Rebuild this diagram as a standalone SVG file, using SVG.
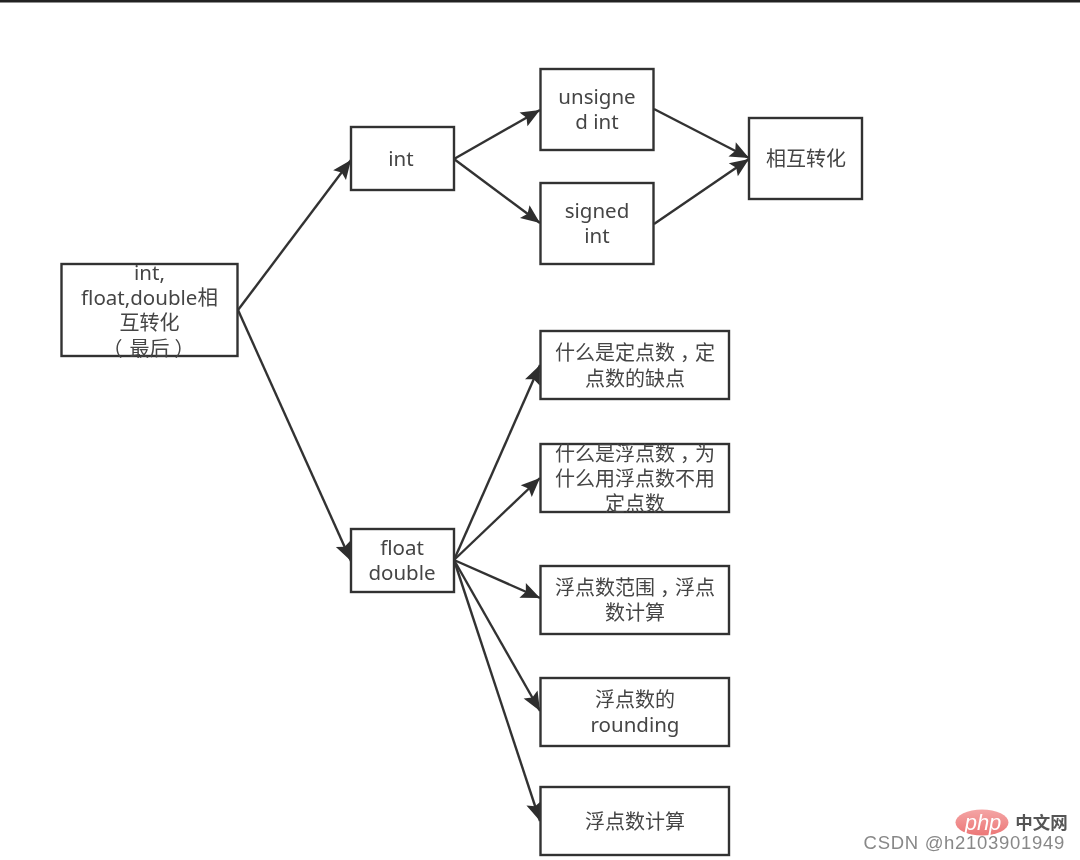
<svg xmlns="http://www.w3.org/2000/svg" width="1080" height="860" viewBox="0 0 1080 860">
<defs>
<marker id="a" markerUnits="userSpaceOnUse" markerWidth="22" markerHeight="18" refX="20" refY="9" orient="auto"><path d="M1 1L20 9L1 17L4.500 9Z" fill="#2e2e2e"/></marker>
<filter id="soft" x="0" y="0" width="1080" height="860" filterUnits="userSpaceOnUse"><feGaussianBlur stdDeviation="0.55"/></filter>
<linearGradient id="ph" x1="0" y1="0" x2="0" y2="1"><stop offset="0" stop-color="#f4a5a5"/><stop offset="1" stop-color="#ec7777"/></linearGradient>
</defs>
<style>
.n{fill:#fff;stroke:#333;stroke-width:2.4}
.t{font-family:"Noto Sans","Noto Sans CJK SC",sans-serif;font-size:20.500px;fill:#444;text-anchor:middle}
.z{font-size:20px}
.c{fill:none;stroke:#333;stroke-width:2.4;marker-end:url(#a)}
</style>
<rect id="top-bar" x="0" y="0" width="1080" height="2.500" fill="#222"/>
<g filter="url(#soft)">
<g id="connectors">
<path class="c" d="M238 310L351 160"/>
<path class="c" d="M238 310L351 561"/>
<path class="c" d="M454 159L540 110"/>
<path class="c" d="M454 159L540 223"/>
<path class="c" d="M654 109L749 158"/>
<path class="c" d="M654 224L749 159"/>
<path class="c" d="M454 560L540 365"/>
<path class="c" d="M454 560L540 478"/>
<path class="c" d="M454 560L540 598"/>
<path class="c" d="M454 560L540 711"/>
<path class="c" d="M454 560L540 821"/>
</g>
<g id="n-root"><rect class="n" x="61.500" y="264" width="176" height="92"/><text class="t" x="149.500" y="280">int,</text><text class="t" x="149.500" y="305">float,double相</text><text class="t z" x="149.500" y="330">互转化</text><text class="t z" y="356"><tspan x="112.500">（</tspan><tspan x="149.500">最后</tspan><tspan x="184.500">）</tspan></text></g>
<g id="n-int"><rect class="n" x="351" y="127" width="103" height="63"/><text class="t" x="401" y="166">int</text></g>
<g id="n-float"><rect class="n" x="351" y="529" width="103" height="63"/><text class="t" x="402" y="555">float</text><text class="t" x="402" y="580">double</text></g>
<g id="n-unsigned"><rect class="n" x="540.500" y="69" width="113" height="81"/><text class="t" x="597" y="104">unsigne</text><text class="t" x="597" y="129">d int</text></g>
<g id="n-signed"><rect class="n" x="540.500" y="183" width="113" height="81"/><text class="t" x="597" y="218">signed</text><text class="t" x="597" y="243">int</text></g>
<g id="n-convert"><rect class="n" x="749" y="118" width="113" height="81"/><text class="t z" x="806" y="166">相互转化</text></g>
<g id="n-fixed"><rect class="n" x="540.500" y="331" width="188.500" height="68"/><text class="t z" x="635" y="360">什么是定点数<tspan dx="5">，</tspan><tspan dx="-5">定</tspan></text><text class="t z" x="635" y="386">点数的缺点</text></g>
<g id="n-floatwhy"><rect class="n" x="540.500" y="444" width="188.500" height="68"/><text class="t z" x="635" y="461">什么是浮点数<tspan dx="5">，</tspan><tspan dx="-5">为</tspan></text><text class="t z" x="635" y="486">什么用浮点数不用</text><text class="t z" x="635" y="511">定点数</text></g>
<g id="n-range"><rect class="n" x="540.500" y="566" width="188.500" height="68"/><text class="t z" x="635" y="595">浮点数范围<tspan dx="5">，</tspan><tspan dx="-5">浮点</tspan></text><text class="t z" x="635" y="620">数计算</text></g>
<g id="n-rounding"><rect class="n" x="540.500" y="678" width="188.500" height="68"/><text class="t z" x="635" y="707">浮点数的</text><text class="t" x="635" y="732">rounding</text></g>
<g id="n-calc"><rect class="n" x="540.500" y="787" width="188.500" height="68"/><text class="t z" x="635" y="829">浮点数计算</text></g>
<g id="watermark">
<ellipse cx="982" cy="822.500" rx="26.500" ry="13" fill="url(#ph)"/>
<text x="983" y="830" font-family="'Liberation Sans',sans-serif" font-size="22" font-style="italic" fill="#fff" text-anchor="middle">php</text>
<text x="1041.500" y="829" font-family="'Noto Sans CJK SC',sans-serif" font-size="17.500" font-weight="700" fill="#555" text-anchor="middle">中文网</text>
<text x="1065" y="849" font-family="'Liberation Sans',sans-serif" font-size="18.500" letter-spacing="0.700" fill="#888" text-anchor="end">CSDN @h2103901949</text>
</g>
</g>
</svg>
